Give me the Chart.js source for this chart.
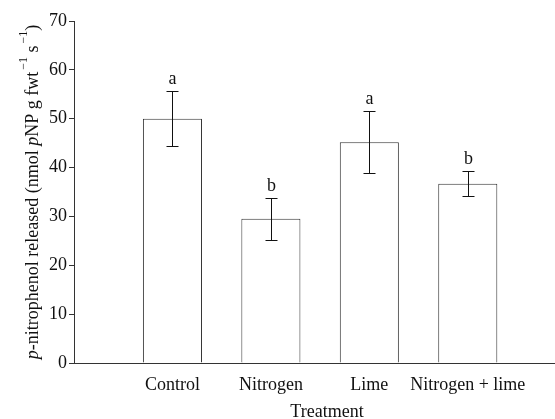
<!DOCTYPE html>
<html><head><meta charset="utf-8">
<script src="https://cdn.jsdelivr.net/npm/chart.js@4.4.0/dist/chart.umd.min.js"></script>
<style>html,body{margin:0;padding:0;background:#fff;overflow:hidden;width:555px;height:419px}#wrap{width:555px;height:419px;position:relative;overflow:hidden}</style>
</head><body><div id="wrap"><canvas id="c" width="580" height="419"></canvas></div>
<script>
const categories = ['Control', 'Nitrogen', 'Lime', 'Nitrogen + lime'];
const positions = [1, 2, 3, 4];
const means = [50.0, 29.5, 45.2, 36.7];
const errors = [5.6, 4.3, 6.3, 2.5];
const letters = ['a', 'b', 'a', 'b'];
const yTickValues = [0, 10, 20, 30, 40, 50, 60, 70];
const xTitle = 'Treatment';
const yTitleParts = [
  {t: 'p', style: 'italic'},
  {t: '-nitrophenol released (nmol '},
  {t: 'p', style: 'italic'},
  {t: 'NP g fwt'},
  {t: '\u22121', sup: true, gap: 2},
  {t: ' s'},
  {t: '\u22121', sup: true, gap: 2},
  {t: ')'}
];

const FONT = '"Liberation Serif", "Times New Roman", serif';
const INK = '#111';
const LINE = '#333';

const errorBarPlugin = {
  id: 'errorBars',
  afterDatasetsDraw(chart) {
    const {ctx, scales: {x, y}} = chart;
    ctx.save();
    ctx.strokeStyle = '#111';
    ctx.lineWidth = 1;
    ctx.font = '18px ' + FONT;
    ctx.fillStyle = INK;
    ctx.textAlign = 'center';
    ctx.textBaseline = 'alphabetic';
    positions.forEach((p, i) => {
      const px = Math.round(x.getPixelForValue(p)) + 0.5;
      const yt = Math.round(y.getPixelForValue(means[i] + errors[i])) + 0.5;
      const yb = Math.round(y.getPixelForValue(means[i] - errors[i])) + 0.5;
      ctx.beginPath();
      ctx.moveTo(px, yt); ctx.lineTo(px, yb);
      ctx.moveTo(px - 6, yt); ctx.lineTo(px + 6, yt);
      ctx.moveTo(px - 6, yb); ctx.lineTo(px + 6, yb);
      ctx.stroke();
      ctx.fillText(letters[i], px, yt - 8);
    });
    ctx.restore();
  }
};

const yTitlePlugin = {
  id: 'yTitle',
  afterDraw(chart) {
    const {ctx, chartArea} = chart;
    ctx.save();
    const cx = 38, cy = (chartArea.top + chartArea.bottom) / 2;
    ctx.translate(cx, cy);
    ctx.rotate(-Math.PI / 2);
    ctx.fillStyle = INK;
    ctx.textBaseline = 'alphabetic';
    ctx.textAlign = 'left';
    const fontFor = s => s.sup ? '12px ' + FONT : ((s.style || 'normal') + ' 18px ' + FONT);
    let total = 0;
    yTitleParts.forEach(s => { ctx.font = fontFor(s); total += ctx.measureText(s.t).width + (s.gap || 0); });
    let xx = -total / 2;
    yTitleParts.forEach(s => {
      ctx.font = fontFor(s);
      xx += (s.gap || 0);
      ctx.fillText(s.t, xx, s.sup ? -11 : 0);
      xx += ctx.measureText(s.t).width;
    });
    ctx.restore();
  }
};

new Chart(document.getElementById('c'), {
  type: 'bar',
  data: {
    datasets: [{
      data: positions.map((p, i) => ({x: p, y: means[i]})),
      backgroundColor: '#ffffff',
      borderColor: LINE,
      borderWidth: 1,
      barPercentage: 0.6,
      categoryPercentage: 1
    }]
  },
  options: {
    responsive: false,
    animation: false,
    devicePixelRatio: 1,
    layout: {padding: {top: 21, left: 0, right: 0, bottom: 0}},
    plugins: {legend: {display: false}, tooltip: {enabled: false}},
    scales: {
      x: {
        type: 'linear',
        offset: false,
        min: 0,
        max: 5.14,
        afterBuildTicks: s => { s.ticks = positions.map(v => ({value: v})); },
        afterFit: s => { s.height = 56; },
        ticks: {
          callback: v => categories[positions.indexOf(v)] || '',
          font: {family: FONT, size: 18},
          color: INK,
          maxRotation: 0,
          autoSkip: false,
          padding: 3
        },
        grid: {display: false},
        border: {display: true, color: LINE, width: 1},
        title: {display: true, text: xTitle, font: {family: FONT, size: 18}, color: INK, padding: {top: 0, bottom: -4}}
      },
      y: {
        min: 0,
        max: 70,
        afterBuildTicks: s => { s.ticks = yTickValues.map(v => ({value: v})); },
        afterFit: s => { s.width = 74; },
        ticks: {font: {family: FONT, size: 18}, color: INK, padding: 2},
        grid: {display: true, drawOnChartArea: false, drawTicks: true, tickLength: 5, color: LINE},
        border: {display: true, color: LINE, width: 1}
      }
    }
  },
  plugins: [errorBarPlugin, yTitlePlugin]
});
</script>
</body></html>
